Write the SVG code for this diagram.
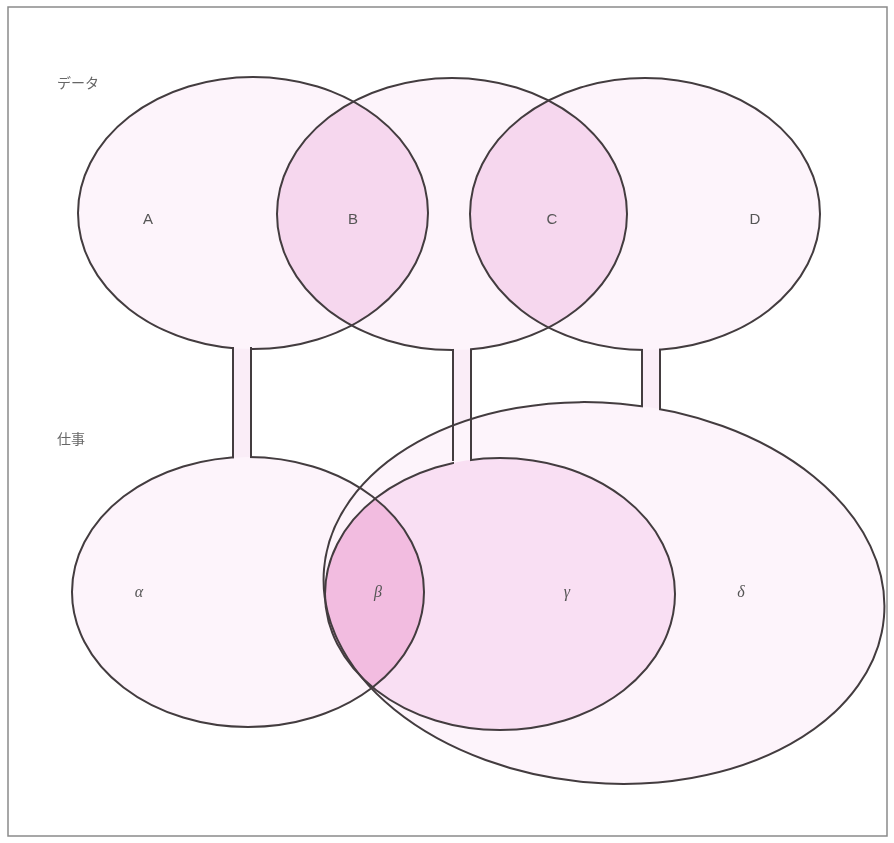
<svg xmlns="http://www.w3.org/2000/svg" width="894" height="843" viewBox="0 0 894 843">
<style>
.ol{fill:none;stroke:#433c3f;stroke-width:2}
.pale{fill:#fdf4fb}
.lens{fill:#f6d7ee}
.mid{fill:#f9dff3}
.dark{fill:#f2bce0}
.lbl{font-family:"Liberation Sans","Noto Sans CJK JP",sans-serif;font-size:15px;fill:#555;text-anchor:middle}
.jp{font-family:"Noto Sans CJK JP",sans-serif;font-size:14px;fill:#666}
.gr{font-family:"Liberation Serif",serif;font-style:italic;font-size:16px;fill:#555;text-anchor:middle}
.ln{stroke:#433c3f;stroke-width:2;fill:none}
</style>
<defs>
<clipPath id="c1"><ellipse cx="253" cy="213" rx="175" ry="136"/></clipPath>
<clipPath id="c3"><ellipse cx="645" cy="214" rx="175" ry="136"/></clipPath>
<clipPath id="ca"><ellipse cx="248" cy="592" rx="176" ry="135"/></clipPath>
<mask id="gaps">
<rect x="0" y="0" width="894" height="843" fill="#fff"/>
<rect x="234" y="338" width="16" height="22" fill="#000"/>
<rect x="234" y="447" width="16" height="20" fill="#000"/>
<rect x="454" y="340" width="16" height="20" fill="#000"/>
<rect x="454" y="450" width="16" height="20" fill="#000"/>
<rect x="643" y="340" width="16" height="20" fill="#000"/>
<rect x="643" y="398" width="16" height="22" fill="#000"/>
</mask>
</defs>
<rect x="8" y="7" width="879" height="829" fill="#fff" stroke="#8a8a8a" stroke-width="1.5"/>

<g id="connectors">
<rect x="233" y="340" width="18" height="125" fill="#faedf7"/>
<rect x="453" y="342" width="18" height="120" fill="#faedf7"/>
<rect x="642" y="342" width="18" height="74" fill="#faedf7"/>
</g>

<g id="node-A">
<ellipse cx="253" cy="213" rx="175" ry="136" class="pale"/>
</g>
<g id="node-B">
<ellipse cx="452" cy="214" rx="175" ry="136" class="pale"/>
</g>
<g id="node-C">
<ellipse cx="645" cy="214" rx="175" ry="136" class="pale"/>
</g>
<g id="lens-top">
<ellipse cx="452" cy="214" rx="175" ry="136" class="lens" clip-path="url(#c1)"/>
<ellipse cx="452" cy="214" rx="175" ry="136" class="lens" clip-path="url(#c3)"/>
</g>

<g id="node-delta">
<ellipse cx="604" cy="593" rx="281" ry="190" transform="rotate(5 604 593)" class="pale"/>
</g>
<g id="node-alpha">
<ellipse cx="248" cy="592" rx="176" ry="135" class="pale"/>
</g>
<g id="node-gamma">
<ellipse cx="500" cy="594" rx="175" ry="136" class="mid"/>
<ellipse cx="500" cy="594" rx="175" ry="136" class="dark" clip-path="url(#ca)"/>
</g>

<g id="outlines" mask="url(#gaps)">
<ellipse cx="253" cy="213" rx="175" ry="136" class="ol"/>
<ellipse cx="452" cy="214" rx="175" ry="136" class="ol"/>
<ellipse cx="645" cy="214" rx="175" ry="136" class="ol"/>
<ellipse cx="604" cy="593" rx="281" ry="190" transform="rotate(5 604 593)" class="ol"/>
<ellipse cx="248" cy="592" rx="176" ry="135" class="ol"/>
<ellipse cx="500" cy="594" rx="175" ry="136" class="ol"/>
</g>

<g id="connector-lines">
<line x1="233" y1="347" x2="233" y2="458" class="ln"/>
<line x1="251" y1="347" x2="251" y2="458" class="ln"/>
<line x1="453" y1="349" x2="453" y2="461" class="ln"/>
<line x1="471" y1="349" x2="471" y2="460" class="ln"/>
<line x1="642" y1="349" x2="642" y2="407" class="ln"/>
<line x1="660" y1="349" x2="660" y2="410" class="ln"/>
</g>

<g id="labels">
<text x="57" y="88" class="jp">データ</text>
<text x="57" y="444" class="jp">仕事</text>
<text x="148" y="224" class="lbl">A</text>
<text x="353" y="224" class="lbl">B</text>
<text x="552" y="224" class="lbl">C</text>
<text x="755" y="224" class="lbl">D</text>
<text x="139" y="597" class="gr">α</text>
<text x="378" y="597" class="gr">β</text>
<text x="567" y="597" class="gr">γ</text>
<text x="741" y="597" class="gr">δ</text>
</g>
</svg>
